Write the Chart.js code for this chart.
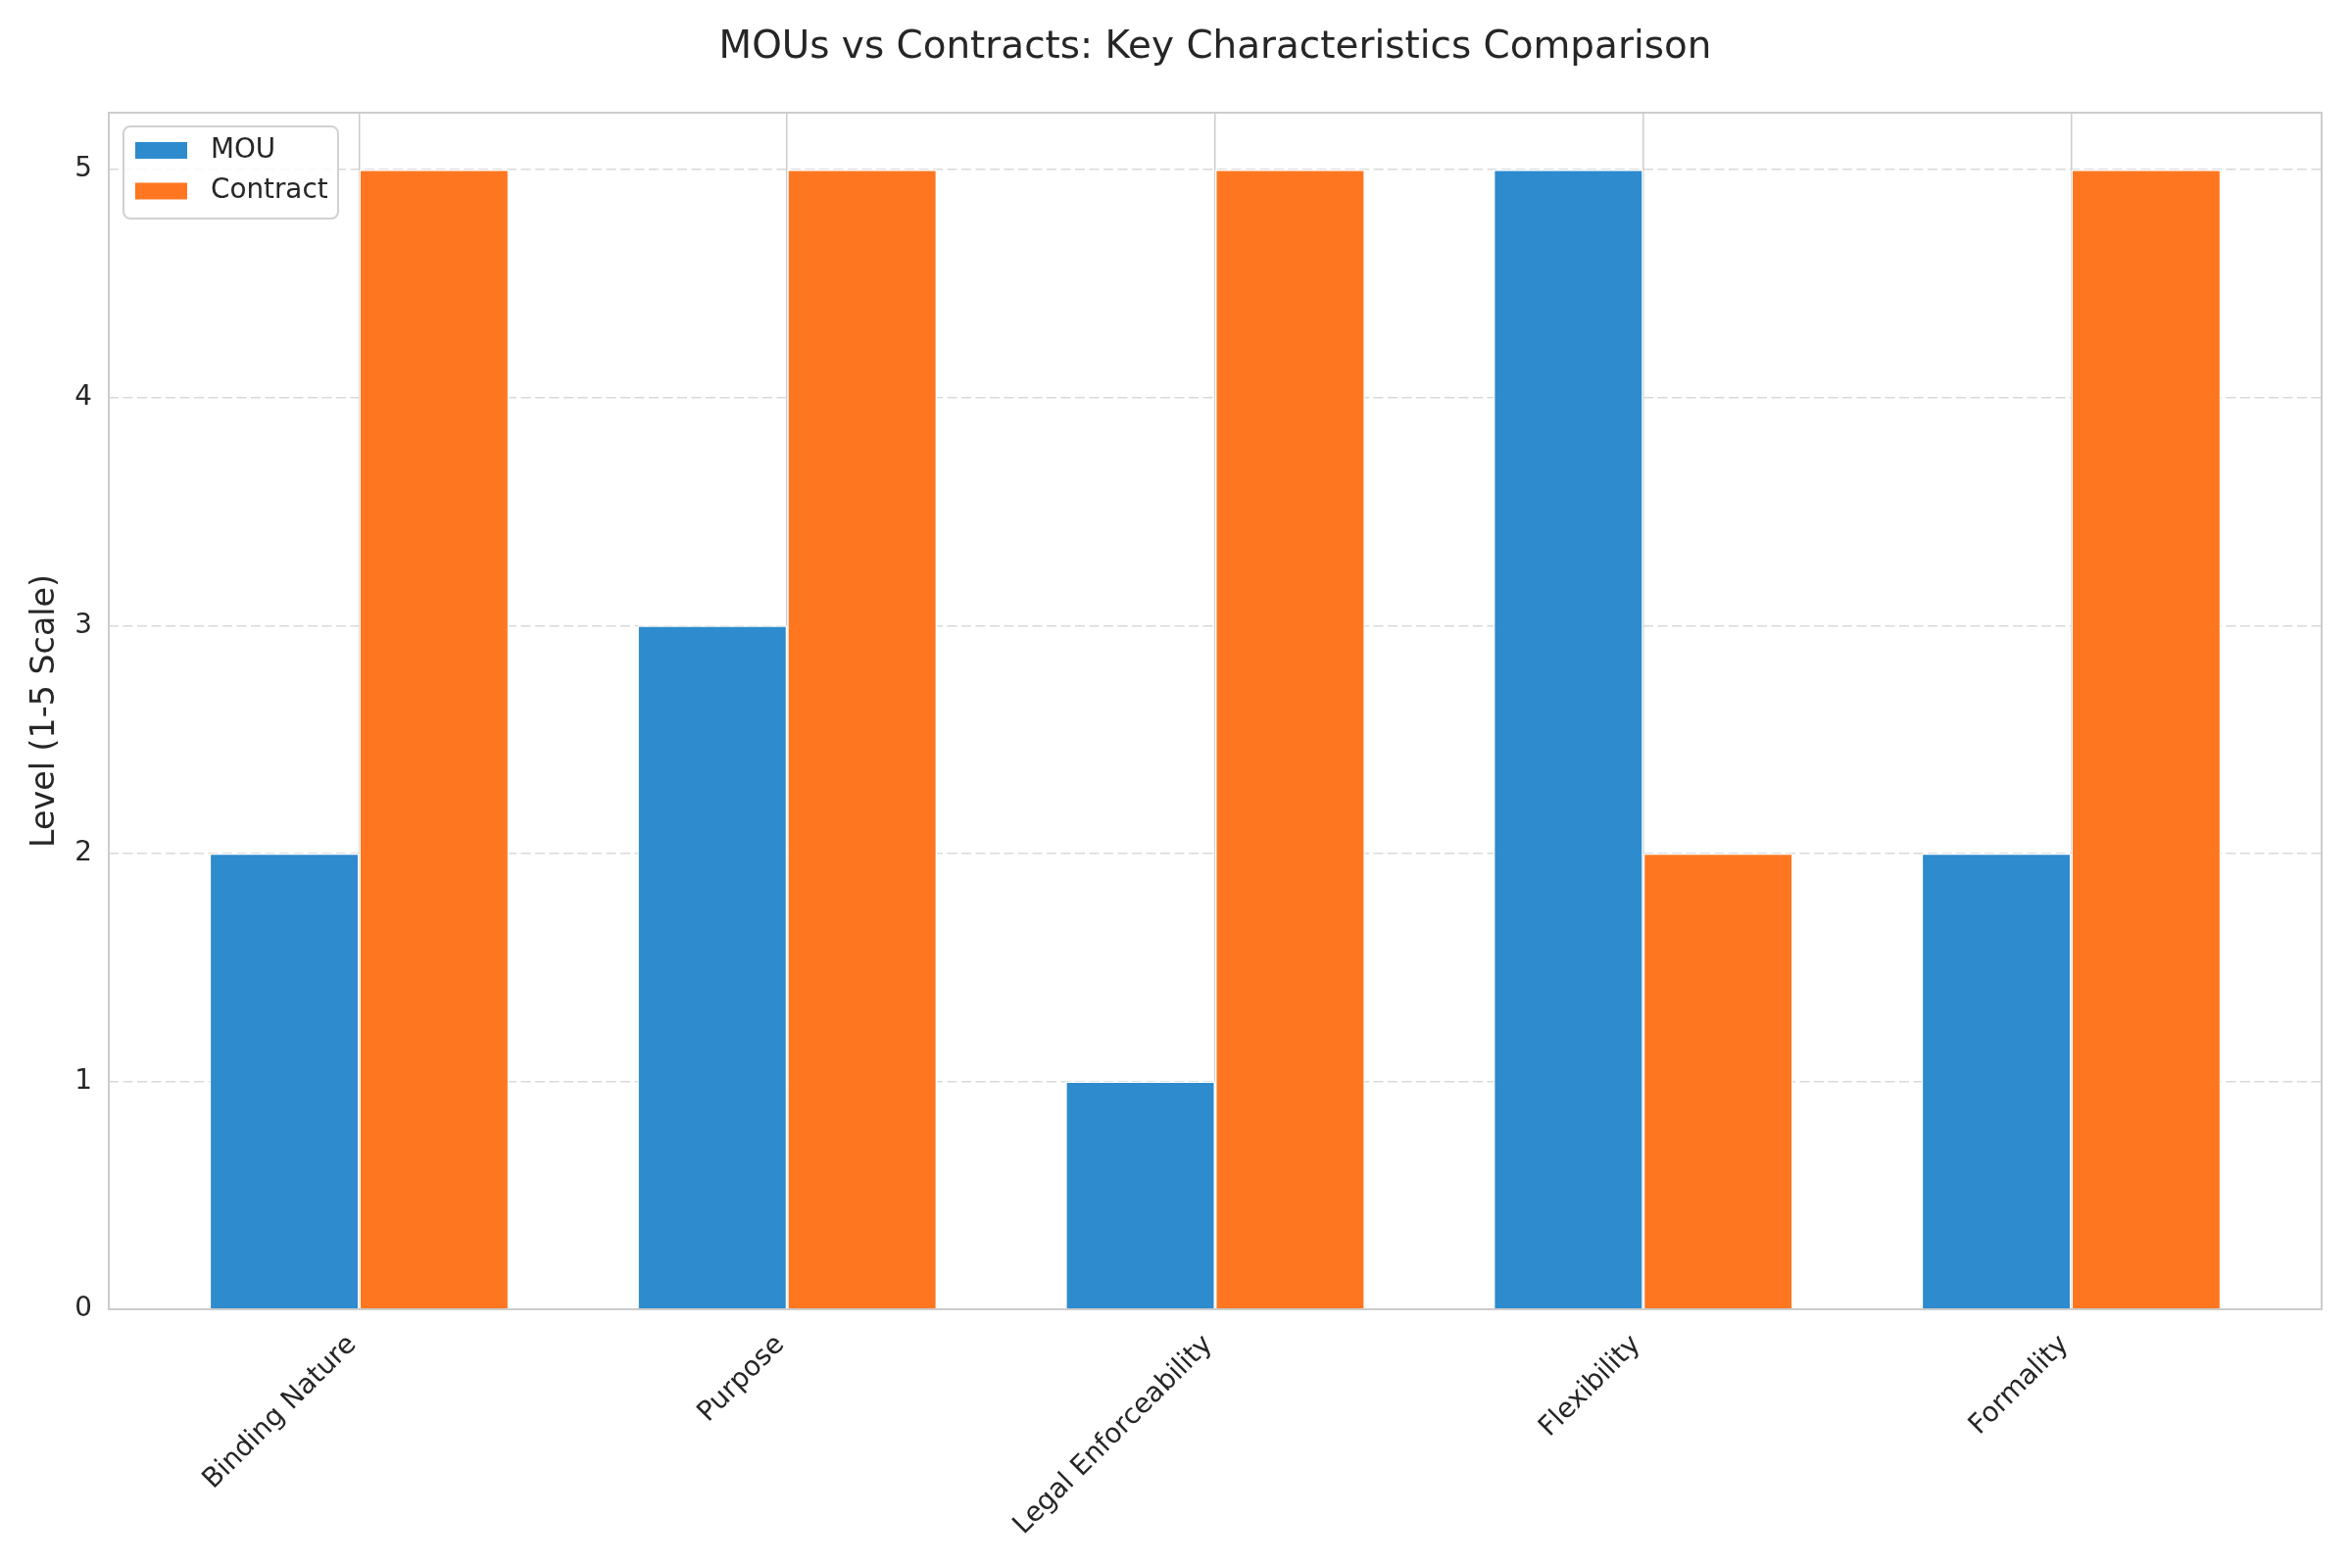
<!DOCTYPE html>
<html>
<head>
<meta charset="utf-8">
<title>MOUs vs Contracts</title>
<script src="https://cdn.jsdelivr.net/npm/chart.js@4.4.1/dist/chart.umd.min.js"></script>
<style>
  html, body { margin: 0; padding: 0; background: #ffffff; }
  #wrap { width: 2400px; height: 1600px; }
</style>
</head>
<body>
<div id="wrap"><canvas id="grafico" width="2400" height="1600"></canvas></div>
<script>
//Dados
const categorias = ['Binding Nature', 'Purpose', 'Legal Enforceability', 'Flexibility', 'Formality']
const valoresMOU = [2, 3, 1, 5, 2]
const valoresContract = [5, 5, 5, 2, 5]
const nomesSeries = ['MOU', 'Contract']
const ticksY = [0, 1, 2, 3, 4, 5]

const corMOU = '#2d8bce'
const corContract = '#fe7720'
const corTexto = '#262626'
const corBorda = '#cccccc'
const fonte = 'DejaVu Sans'

// eixo x linear: cada categoria vira o indice dela
const pontos = (valores) => valores.map((v, i) => ({ x: i, y: v }))

//Moldura em volta da area do grafico
const bordaPlugin = {
    id: 'bordaArea',
    afterDatasetsDraw(chart) {
        const { ctx, chartArea } = chart
        ctx.save()
        ctx.strokeStyle = corBorda
        ctx.lineWidth = 2
        ctx.strokeRect(chartArea.left, chartArea.top, chartArea.right - chartArea.left, chartArea.bottom - chartArea.top)
        ctx.restore()
    }
}

//Legenda dentro do grafico (canto superior esquerdo)
const legendaPlugin = {
    id: 'legendaInterna',
    afterDatasetsDraw(chart) {
        const { ctx, chartArea } = chart
        const x0 = chartArea.left + 15
        const y0 = chartArea.top + 14
        ctx.save()
        ctx.beginPath()
        ctx.roundRect(x0, y0, 219, 94, 7)
        ctx.fillStyle = 'rgba(255, 255, 255, 0.8)'
        ctx.fill()
        ctx.strokeStyle = 'rgba(204, 204, 204, 0.9)'
        ctx.lineWidth = 2
        ctx.stroke()

        ctx.font = `27.8px "${fonte}"`
        ctx.textBaseline = 'middle'
        chart.data.datasets.forEach((ds, i) => {
            const cy = y0 + 24.5 + i * 41.5
            ctx.fillStyle = ds.backgroundColor
            ctx.fillRect(x0 + 12, cy - 8.5, 53, 17)
            ctx.fillStyle = corTexto
            ctx.fillText(ds.label, x0 + 89, cy)
        })
        ctx.restore()
    }
}

new Chart(document.getElementById('grafico'), {
    type: 'bar',
    data: {
        datasets: [{
            label: nomesSeries[0],
            data: pontos(valoresMOU),
            backgroundColor: corMOU,
            borderColor: '#ffffff',
            borderWidth: 1.5,
            categoryPercentage: 0.7,
            barPercentage: 1.0
        }, {
            label: nomesSeries[1],
            data: pontos(valoresContract),
            backgroundColor: corContract,
            borderColor: '#ffffff',
            borderWidth: 1.5,
            categoryPercentage: 0.7,
            barPercentage: 1.0
        }]
    },
    options: {
        responsive: false,
        animation: false,
        devicePixelRatio: 1,
        layout: { padding: { left: 0, right: 31, top: 0, bottom: 0 } },
        plugins: {
            legend: { display: false },
            tooltip: { enabled: false },
            title: {
                display: true,
                fullSize: false,
                text: 'MOUs vs Contracts: Key Characteristics Comparison',
                color: corTexto,
                font: { family: fonte, size: 38.9, weight: 'normal' },
                padding: { top: 25.5, bottom: 42.8 }
            }
        },
        scales: {
            x: {
                type: 'linear',
                min: -0.585,
                max: 4.585,
                offset: false,
                afterBuildTicks: (scale) => { scale.ticks = categorias.map((c, i) => ({ value: i })) },
                afterFit: (scale) => { scale.height = 264 },
                grid: { display: true, offset: false, color: corBorda, lineWidth: 1.5, drawTicks: false },
                border: { display: false },
                ticks: {
                    autoSkip: false,
                    minRotation: 45,
                    maxRotation: 45,
                    padding: 20,
                    labelOffset: -7,
                    color: corTexto,
                    font: { family: fonte, size: 27.8 },
                    callback: (v) => categorias[v]
                }
            },
            y: {
                min: 0,
                max: 5.25,
                afterBuildTicks: (scale) => { scale.ticks = ticksY.map(v => ({ value: v })) },
                afterFit: (scale) => { scale.width = 111 },
                grid: { color: 'rgba(204, 204, 204, 0.75)', lineWidth: 1.5, drawTicks: false },
                border: { display: false, dash: [10, 4.5] },
                ticks: {
                    padding: 17,
                    color: corTexto,
                    font: { family: fonte, size: 27.8 }
                },
                title: {
                    display: true,
                    text: 'Level (1-5 Scale)',
                    color: corTexto,
                    font: { family: fonte, size: 33.3 },
                    padding: { top: 26, bottom: 0 }
                }
            }
        }
    },
    plugins: [bordaPlugin, legendaPlugin]
})
</script>
</body>
</html>
